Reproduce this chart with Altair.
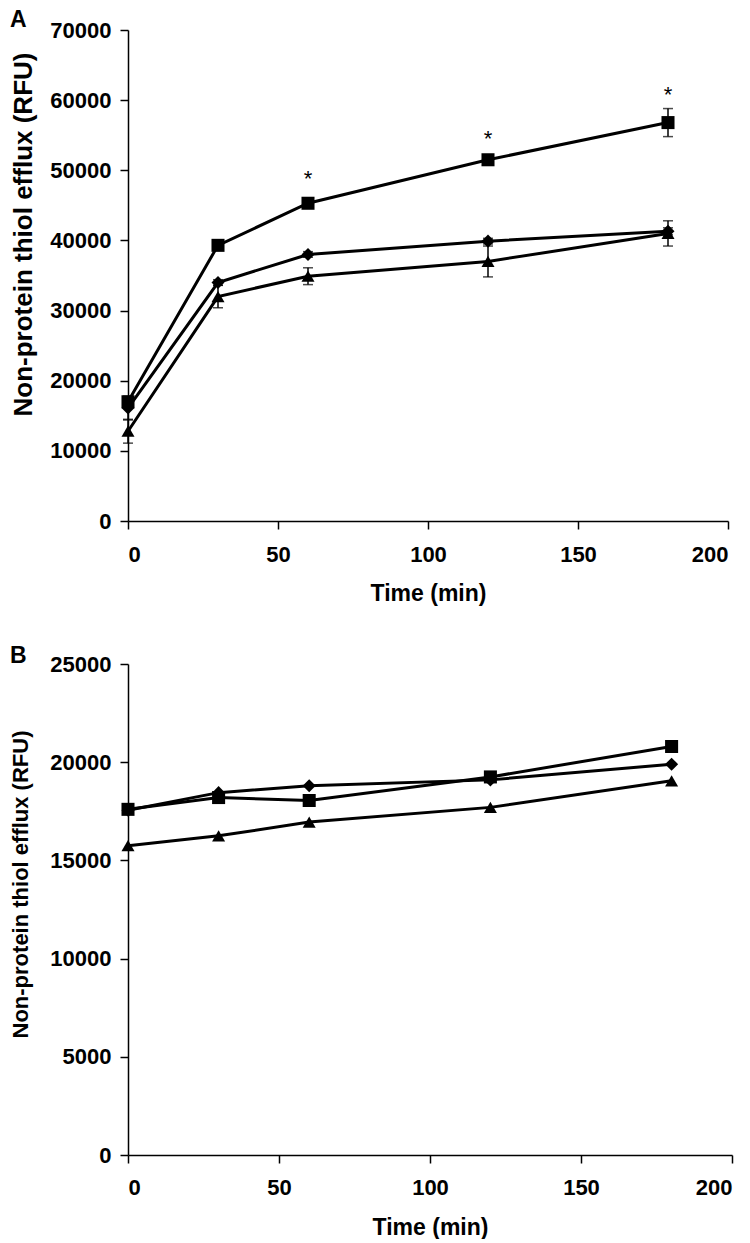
import altair as alt
import pandas as pd

# ---------------- data ----------------
time = [0, 30, 60, 120, 180]
series = ["Square", "Diamond", "Triangle"]

a_square = [17000, 39300, 45300, 51500, 56800]
a_square_err = [500, 400, 400, 400, 2000]
a_diamond = [16100, 34000, 38000, 39900, 41300]
a_diamond_err = [1700, 400, 400, 400, 500]
a_triangle = [12800, 32000, 34900, 37000, 41000]
a_triangle_err = [1700, 1600, 1200, 2200, 1800]

star_time = [60, 120, 180]
star_value = [48800, 54400, 60700]

b_square = [17600, 18200, 18050, 19250, 20800]
b_diamond = [17550, 18450, 18800, 19100, 19900]
b_triangle = [15750, 16250, 16950, 17700, 19050]

x_ticks = [0, 50, 100, 150, 200]
a_y_ticks = [0, 10000, 20000, 30000, 40000, 50000, 60000, 70000]
b_y_ticks = [0, 5000, 10000, 15000, 20000, 25000]
panel_letters = ["A", "B"]

FONT = "Liberation Sans"


def long_df(vals, errs=None):
    rows = []
    for s, v, e in zip(series, vals, errs if errs else [[0] * 5] * 3):
        for t, y, er in zip(time, v, e):
            rows.append({"time": t, "value": y, "series": s,
                         "lo": y - er, "hi": y + er})
    return pd.DataFrame(rows)


df_a = long_df([a_square, a_diamond, a_triangle],
               [a_square_err, a_diamond_err, a_triangle_err])
df_b = long_df([b_square, b_diamond, b_triangle])
df_star = pd.DataFrame({"time": star_time, "value": star_value})

shape_scale = alt.Scale(domain=series, range=["square", "diamond", "triangle-up"])


def panel(df, ymax, yticks, letter, letter_y, ytitle_size, ytitle_x, ytitle_y,
          width, height, with_err, xlab_pad, xtitle_pad, stars=None):
    x = alt.X("time:Q", scale=alt.Scale(domain=[0, 200], nice=False),
              axis=alt.Axis(values=x_ticks, title="Time (min)", format="d",
                            labelPadding=xlab_pad, titlePadding=xtitle_pad))
    y = alt.Y("value:Q", scale=alt.Scale(domain=[0, ymax], nice=False),
              axis=alt.Axis(values=yticks, title="Non-protein thiol efflux (RFU)",
                            format="d", titleFontSize=ytitle_size,
                            titleX=ytitle_x, titleY=ytitle_y, titleAngle=-90,
                            titleAlign="center", titleBaseline="bottom"))
    base = alt.Chart(df)
    layers = []
    if with_err:
        layers.append(base.mark_rule(color="black", strokeWidth=1.5).encode(
            x="time:Q", y="lo:Q", y2="hi:Q"))
        layers.append(base.mark_tick(color="black", thickness=1.5, size=10,
                                     orient="horizontal").encode(x="time:Q", y="lo:Q"))
        layers.append(base.mark_tick(color="black", thickness=1.5, size=10,
                                     orient="horizontal").encode(x="time:Q", y="hi:Q"))
    layers.append(base.mark_line(color="black", strokeWidth=3).encode(
        x=x, y=y, detail="series:N"))
    layers.append(base.mark_point(filled=True, color="black", opacity=1, size=170).encode(
        x="time:Q", y="value:Q",
        shape=alt.Shape("series:N", scale=shape_scale, legend=None)))
    if stars is not None:
        layers.append(alt.Chart(stars).mark_text(
            text="*", fontSize=22, font=FONT, color="black", baseline="middle").encode(
            x="time:Q", y="value:Q"))
    layers.append(alt.Chart(pd.DataFrame({"t": [letter]})).mark_text(
        font=FONT, fontSize=23, fontWeight="bold", color="black",
        align="left", baseline="top").encode(
        text="t:N", x=alt.value(-118), y=alt.value(letter_y)))
    return alt.layer(*layers).properties(width=width, height=height)


pa = panel(df_a, 70000, a_y_ticks, panel_letters[0], -21, 26, -92, 204,
           600, 491, True, 15, 17, df_star)
pb = panel(df_b, 25000, b_y_ticks, panel_letters[1], -19, 22, -96, 220,
           604, 491, False, 14, 18)

chart = alt.vconcat(pa, pb, spacing=40).configure_view(stroke=None).configure_axis(
    grid=False, domainColor="black", domainWidth=1.5, tickColor="black",
    tickWidth=1.5, tickSize=8, labelFont=FONT, labelFontSize=22,
    labelFontWeight="bold", labelColor="black", labelPadding=9,
    titleFont=FONT, titleFontSize=23, titleFontWeight="bold", titleColor="black",
    titlePadding=14
).properties(padding={"left": 0, "top": 1, "right": 5, "bottom": 0})

chart.save("out.html", embed_options={"renderer": "svg", "actions": False})
